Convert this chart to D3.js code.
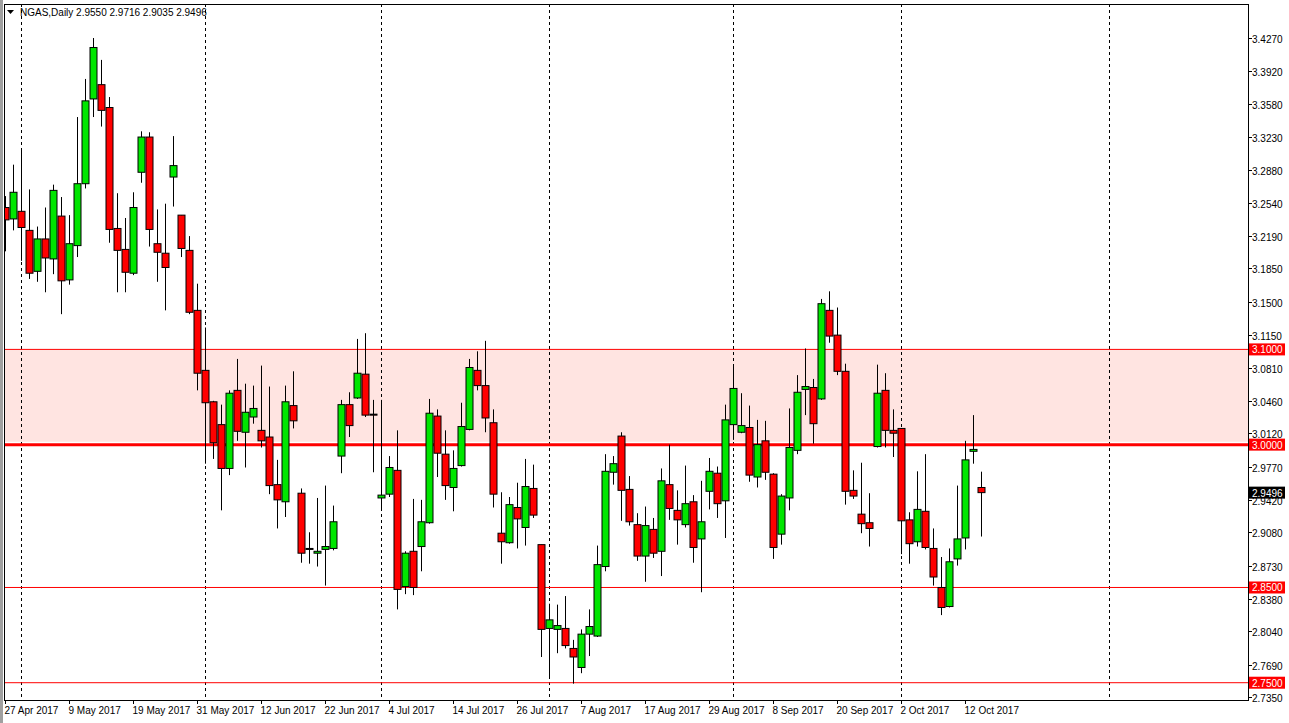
<!DOCTYPE html>
<html>
<head>
<meta charset="utf-8">
<script src="https://cdn.jsdelivr.net/npm/d3@7"></script>
<style>
  body { margin: 0; background: #fff; }
  svg { display: block; font-family: "Liberation Sans", Arial, sans-serif; }
</style>
</head>
<body>
<svg id="chart" width="1289" height="723"></svg>
<script>
// daily NGAS candles, 27 Apr 2017 .. 13 Oct 2017 (weekdays)
var opens  = [3.249,3.237,3.245,3.225,3.182,3.216,3.195,3.240,3.173,3.209,3.274,3.363,3.378,3.354,3.227,3.205,3.180,3.286,3.323,3.211,3.201,3.281,3.241,3.204,3.141,3.078,
              3.045,3.021,2.975,3.057,3.013,3.029,3.015,3.008,2.958,2.940,3.041,2.949,2.891,2.886,2.890,2.891,2.988,3.042,3.049,3.074,3.032,2.944,2.948,2.973,
              2.851,2.888,2.893,2.918,3.030,2.990,2.955,2.978,3.016,3.078,3.062,3.023,2.907,2.897,2.934,2.913,2.954,2.895,2.807,2.806,2.807,2.786,
              2.766,2.801,2.799,2.872,2.971,3.009,2.953,2.916,2.883,2.911,2.888,2.958,2.931,2.916,2.940,2.901,2.951,2.970,2.941,3.021,3.013,3.018,2.966,
              3.004,2.969,2.906,2.944,2.994,3.058,3.060,3.048,3.141,3.115,3.077,2.952,2.927,2.918,2.998,3.057,3.015,3.017,2.921,2.898,2.930,2.891,2.850,2.830,2.880,2.902,2.993,2.9550];
var highs  = [3.261,3.294,3.311,3.268,3.229,3.249,3.273,3.260,3.241,3.344,3.384,3.427,3.404,3.365,3.264,3.238,3.265,3.329,3.328,3.247,3.253,3.324,3.241,3.219,3.169,3.123,
              3.046,3.042,3.057,3.090,3.064,3.062,3.083,3.061,2.984,3.062,3.077,2.954,2.908,2.944,2.957,2.936,3.047,3.055,3.111,3.117,3.047,3.047,2.988,3.015,
              2.888,2.943,2.942,3.048,3.037,3.015,2.994,3.044,3.090,3.098,3.109,3.037,2.950,2.945,2.960,2.985,2.979,2.895,2.833,2.832,2.841,2.795,
              2.806,2.827,2.894,2.990,2.988,3.013,2.967,2.928,2.935,2.923,2.975,3.000,2.952,2.978,2.947,2.962,2.986,2.977,3.042,3.084,3.054,3.041,3.026,
              3.025,2.970,2.948,3.038,3.073,3.101,3.069,3.153,3.161,3.144,3.085,2.973,2.981,2.949,3.084,3.075,3.037,3.017,2.929,2.972,2.990,2.912,2.882,2.891,2.957,3.004,3.031,2.9716];
var lows   = [3.203,3.225,3.193,3.174,3.171,3.160,3.179,3.137,3.168,3.197,3.269,3.344,3.334,3.212,3.160,3.160,3.178,3.275,3.208,3.171,3.141,3.250,3.197,3.137,3.057,2.980,
              2.985,2.931,2.968,3.004,2.976,3.022,2.997,2.948,2.912,2.924,3.017,2.876,2.875,2.872,2.852,2.889,2.970,3.008,3.048,3.029,2.971,2.931,2.945,2.827,
              2.843,2.842,2.867,2.917,2.966,2.942,2.930,2.977,3.015,3.057,3.013,2.934,2.875,2.896,2.891,2.894,2.923,2.777,2.755,2.781,2.786,2.749,
              2.760,2.778,2.798,2.867,2.958,2.920,2.915,2.878,2.856,2.881,2.862,2.921,2.895,2.913,2.876,2.845,2.932,2.923,2.902,3.005,3.012,2.961,2.955,
              2.963,2.880,2.895,2.931,2.990,3.031,3.001,3.047,3.107,3.073,2.937,2.943,2.907,2.893,2.997,2.997,2.987,2.885,2.875,2.893,2.890,2.852,2.821,2.829,2.873,2.890,2.980,2.9035];
var closes = [3.236,3.265,3.228,3.180,3.216,3.196,3.267,3.172,3.211,3.274,3.361,3.417,3.351,3.226,3.204,3.181,3.249,3.323,3.226,3.202,3.186,3.293,3.206,3.139,3.075,3.044,
              3.002,2.975,3.054,3.014,3.034,3.038,3.004,2.957,2.942,3.045,3.025,2.886,2.890,2.888,2.893,2.919,3.042,3.020,3.075,3.031,3.031,2.947,2.976,2.848,
              2.886,2.850,2.919,3.033,2.991,2.957,2.975,3.019,3.081,3.062,3.028,2.948,2.898,2.937,2.922,2.956,2.926,2.806,2.816,2.810,2.789,2.777,
              2.801,2.809,2.874,2.972,2.980,2.952,2.919,2.883,2.915,2.886,2.962,2.933,2.921,2.938,2.892,2.919,2.972,2.938,3.026,3.059,3.020,2.968,3.000,
              2.971,2.892,2.946,2.997,3.055,3.061,3.022,3.148,3.114,3.077,2.951,2.946,2.917,2.912,3.054,3.015,3.012,2.920,2.896,2.932,2.892,2.861,2.829,2.877,2.901,2.984,2.995,2.9496];

var dateLabels = ["27 Apr 2017","9 May 2017","19 May 2017","31 May 2017","12 Jun 2017","22 Jun 2017","4 Jul 2017","14 Jul 2017",
                  "26 Jul 2017","7 Aug 2017","17 Aug 2017","29 Aug 2017","8 Sep 2017","20 Sep 2017","2 Oct 2017","12 Oct 2017"];
var dateIdx = [0,8,16,24,32,40,48,56,64,72,80,88,96,104,112,120];
var monthStarts = [2,25,47,68,91,112,138];   // period separators
var priceTicks = [3.4270,3.3920,3.3580,3.3230,3.2880,3.2540,3.2190,3.1850,3.1500,3.1150,3.0810,3.0460,
                  3.0120,2.9770,2.9420,2.9080,2.8730,2.8380,2.8040,2.7690,2.7350];
var levels = [3.10, 3.00, 2.85, 2.75];
var zone = [3.003, 3.10];

var svg = d3.select("#chart");
var pLeft = 4, pRight = 1248, pTop = 4, pBottom = 700;

var x = d3.scaleLinear().domain([0, 1]).range([5.3, 13.3]);
var y = d3.scaleLinear().domain([2.7350, 3.4270]).range([697, 38]);

svg.append("rect").attr("width", 1289).attr("height", 723).attr("fill", "#fff");

svg.append("clipPath").attr("id", "plot").append("rect")
  .attr("x", pLeft).attr("y", pTop).attr("width", pRight - pLeft).attr("height", pBottom - pTop);
var g = svg.append("g").attr("clip-path", "url(#plot)");

// resistance zone
g.append("rect").attr("x", pLeft).attr("width", pRight - pLeft)
  .attr("y", y(zone[1])).attr("height", y(zone[0]) - y(zone[1])).attr("fill", "#ffe4e1");

// period separators
monthStarts.forEach(function(i) {
  var xx = Math.round(x(i)) + 0.5;
  g.append("line").attr("x1", xx).attr("x2", xx).attr("y1", pTop).attr("y2", pBottom)
    .attr("stroke", "#000").attr("stroke-dasharray", "3,3");
});

levels.forEach(function(v) {
  g.append("line").attr("x1", pLeft).attr("x2", pRight).attr("y1", y(v)).attr("y2", y(v))
    .attr("stroke", "#ff0000").attr("stroke-width", v === 3.00 ? 3 : 1);
});

// candles
opens.forEach(function(o, i) {
  var c = closes[i], cx = Math.round(x(i)) + 0.5;
  g.append("line").attr("x1", cx).attr("x2", cx).attr("y1", y(highs[i])).attr("y2", y(lows[i]))
    .attr("stroke", "#000");
  var t = y(Math.max(o, c)), b = y(Math.min(o, c));
  g.append("rect").attr("x", cx - 3.5).attr("width", 7).attr("y", t).attr("height", Math.max(b - t, 1))
    .attr("fill", c >= o ? "#00e600" : "#ff0000").attr("stroke", "#000");
});

// frame
svg.append("rect").attr("x", pLeft + 0.5).attr("y", pTop + 0.5).attr("width", pRight - pLeft).attr("height", pBottom - pTop)
  .attr("fill", "none").attr("stroke", "#000");
svg.append("rect").attr("width", 3).attr("height", 723).attr("fill", "#a0a0a0");

// price axis
priceTicks.forEach(function(v) {
  var yy = Math.round(y(v)) + 0.5;
  svg.append("line").attr("x1", pRight).attr("x2", pRight + 4).attr("y1", yy).attr("y2", yy).attr("stroke", "#000");
  svg.append("text").attr("x", 1252).attr("y", yy + 4).attr("font-size", 10).text(v.toFixed(4));
});

function tag(v, bg) {
  var yy = y(v);
  svg.append("rect").attr("x", 1249).attr("y", yy - 6).attr("width", 36).attr("height", 12).attr("fill", bg);
  svg.append("text").attr("x", 1252).attr("y", yy + 4).attr("font-size", 10).attr("fill", "#fff").text(v.toFixed(4));
}
tag(3.10, "#ff0000"); tag(3.00, "#ff0000"); tag(2.85, "#ff0000"); tag(2.75, "#ff0000");
tag(closes[closes.length - 1], "#000");

// date axis
dateIdx.forEach(function(i, k) {
  var xx = Math.round(x(i)) + 0.5;
  svg.append("line").attr("x1", xx).attr("x2", xx).attr("y1", pBottom).attr("y2", pBottom + 4).attr("stroke", "#000");
  svg.append("text").attr("x", xx - 1).attr("y", 714).attr("font-size", 10).text(dateLabels[k]);
});

// title
svg.append("path").attr("d", "M7,10 L14,10 L10.5,14 Z").attr("fill", "#000");
svg.append("text").attr("x", 20).attr("y", 16).attr("font-size", 10)
  .text("NGAS,Daily  " + [opens, highs, lows, closes].map(function(a) { return a[a.length - 1].toFixed(4); }).join(" "));
</script>
</body>
</html>
